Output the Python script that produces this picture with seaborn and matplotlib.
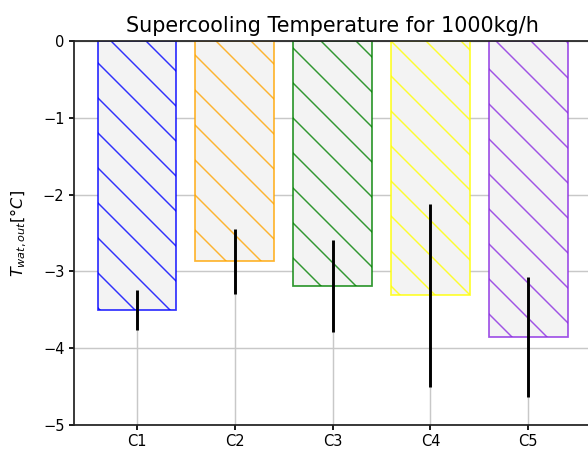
import numpy as np
import pandas as pd
import matplotlib
matplotlib.use("Agg")
import matplotlib.pyplot as plt
import matplotlib.colors as mcolors
import seaborn as sns

# data
cases = ['C1', 'C2', 'C3', 'C4', 'C5']
t_out = [-3.50, -2.87, -3.19, -3.31, -3.85]
t_err = [0.26, 0.42, 0.60, 1.19, 0.78]
edge_colors = ['blue', 'orange', 'green', 'yellow', 'blueviolet']

df = pd.DataFrame({'case': cases, 't_out': t_out})

DPI = 105
plt.rcParams['font.family'] = ['DejaVu Sans']
plt.rcParams['hatch.linewidth'] = 1.0

fig = plt.figure(figsize=(588 / DPI, 451 / DPI), dpi=DPI)
ax = fig.add_axes([74 / 588, 26 / 451, 517 / 588, 384 / 451])

sns.barplot(data=df, x='case', y='t_out', hue='case', palette=edge_colors,
            width=0.8, legend=False, errorbar=None, ax=ax, zorder=2)

for patch, col in zip(ax.patches, edge_colors):
    patch.set_facecolor('#f3f3f3')
    patch.set_edgecolor(mcolors.to_rgba(col, 0.8))
    patch.set_hatch('\\')
    patch.set_linewidth(1.2)

ax.errorbar(x=np.arange(len(cases)), y=t_out, yerr=t_err, fmt='none',
            ecolor='black', elinewidth=2.0, capsize=0, zorder=3)

ax.set_xlim(-0.64, 4.64)
ax.set_ylim(-5, 0)
ax.set_yticks([0, -1, -2, -3, -4, -5])
ax.grid(True, color='#c8c8c8', linewidth=1.0, zorder=0)
ax.set_axisbelow(True)

for s in ax.spines.values():
    s.set_linewidth(1.2)
    s.set_color('#222222')

ax.tick_params(labelsize=10, width=1.2, length=3.5, pad=3)
ax.set_xlabel('')
ax.set_ylabel(r'$T_{wat,out}[°C]$', fontsize=11)
ax.yaxis.set_label_coords(-0.087, 0.5)
ax.set_title('Supercooling Temperature for 1000kg/h', fontsize=14.2, pad=6)

fig.savefig('out.png', dpi=DPI)
